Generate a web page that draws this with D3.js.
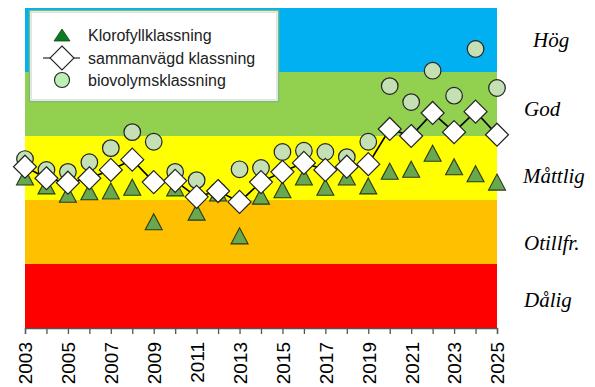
<!DOCTYPE html>
<html>
<head>
<meta charset="utf-8">
<script src="https://cdn.jsdelivr.net/npm/d3@7"></script>
<style>
html,body{margin:0;padding:0;background:#fff;}
svg{display:block;}
</style>
</head>
<body>
<svg id="chart" width="595" height="387"></svg>
<script>
// ---- data ----
const years = d3.range(2003, 2026);
const klorofyll = [2.36,2.22,2.09,2.13,2.14,2.20,1.66,2.19,1.81,2.11,1.44,2.06,2.16,2.36,2.20,2.36,2.22,2.45,2.48,2.73,2.52,2.41,2.28];
const sammanvagd = [2.52,2.34,2.27,2.34,2.47,2.63,2.28,2.30,2.05,2.14,1.97,2.28,2.44,2.58,2.47,2.52,2.56,3.11,3.00,3.36,3.06,3.38,3.02];
const biovolym = [2.64,2.47,2.44,2.59,2.81,3.06,2.91,2.44,2.31,2.14,2.48,2.50,2.75,2.77,2.75,2.67,2.91,3.78,3.53,4.02,3.63,4.36,3.75];
const classNames = ["Dålig","Otillfr.","Måttlig","God","Hög"];
const classLow = [0,1,2,3,4];
const classHigh = [1,2,3,4,5];
const classColors = ["#FF0000","#FFC000","#FFFF00","#92D050","#00B0F0"];
const classLabelPos = [0.44,1.34,2.38,3.42,4.5];
const classLabelX = [524,524,523,524,533];
const tickYears = d3.range(2003, 2026, 2);
const legendNames = ["Klorofyllklassning","sammanvägd klassning","biovolymsklassning"];

// ---- layout ----
const svg = d3.select("#chart");
const x = d3.scaleLinear().domain([2003, 2025]).range([25, 497]);
const y = d3.scaleLinear().domain([0, 5]).range([328, 8]);

// bands
svg.append("g").selectAll("rect").data(classNames).join("rect")
  .attr("x", x(2003)).attr("width", x(2025) - x(2003))
  .attr("y", (d,i) => y(classHigh[i]))
  .attr("height", (d,i) => y(classLow[i]) - y(classHigh[i]))
  .attr("fill", (d,i) => classColors[i]);

// class labels
svg.append("g").selectAll("text").data(classNames).join("text")
  .attr("x", (d,i) => classLabelX[i])
  .attr("y", (d,i) => y(classLabelPos[i]))
  .attr("dy", "0.35em")
  .attr("font-family", "'Liberation Serif','Times New Roman',serif")
  .attr("font-style", "italic")
  .attr("font-size", 21)
  .attr("fill", "#000")
  .text(d => d);

// x axis
const axis = d3.axisBottom(x)
  .tickValues(years)
  .tickSize(6)
  .tickFormat(d => tickYears.includes(d) ? String(d) : "");
const gx = svg.append("g").attr("transform", `translate(0,${y(0)})`).call(axis);
gx.select(".domain").attr("stroke", "#555").attr("stroke-width", 1.3);
gx.selectAll(".tick line").attr("stroke", "#555").attr("stroke-width", 1.3);
gx.selectAll(".tick text")
  .attr("font-family", "'Liberation Sans',Arial,sans-serif")
  .attr("font-size", 19)
  .attr("fill", "#000")
  .attr("text-anchor", "end")
  .attr("transform", "rotate(-90)")
  .attr("x", -14).attr("y", 0).attr("dy", "0.36em");

// circles (biovolym)
svg.append("g").selectAll("circle").data(years).join("circle")
  .attr("cx", d => x(d))
  .attr("cy", (d,i) => y(biovolym[i]))
  .attr("r", 8.3)
  .attr("fill", "#C5E0B4")
  .attr("stroke", "#222").attr("stroke-width", 1.2);

// triangles (klorofyll), centred on bounding box
const triPath = "M0,-8L8.5,8L-8.5,8Z";
svg.append("g").selectAll("path").data(years).join("path")
  .attr("d", triPath)
  .attr("transform", (d,i) => `translate(${x(d)},${y(klorofyll[i])})`)
  .attr("fill", "#6AA84F")
  .attr("stroke", "#2a3a1a").attr("stroke-width", 1.1);

// line (sammanvägd)
const line = d3.line().x((d,i) => x(years[i])).y(d => y(d));
svg.append("path").datum(sammanvagd)
  .attr("d", line).attr("fill", "none")
  .attr("stroke", "#000").attr("stroke-width", 1.6);

// diamonds
const dia = 11.5;
svg.append("g").selectAll("path").data(years).join("path")
  .attr("d", `M0,${-dia}L${dia},0L0,${dia}L${-dia},0Z`)
  .attr("transform", (d,i) => `translate(${x(d)},${y(sammanvagd[i])})`)
  .attr("fill", "#fff")
  .attr("stroke", "#222").attr("stroke-width", 1.2);

// legend
const lg = svg.append("g");
lg.append("rect").attr("x", 29.5).attr("y", 10.5).attr("width", 249).attr("height", 91)
  .attr("fill", "#fff").attr("stroke", "#7fb87f").attr("stroke-width", 1.5);
lg.append("rect").attr("x", 31.5).attr("y", 12.5).attr("width", 245).attr("height", 87)
  .attr("fill", "none").attr("stroke", "#dcdcdc").attr("stroke-width", 0.8);
const ly = [35, 58, 80];
lg.append("path").attr("d", "M0,-6L8,6L-8,6Z")
  .attr("transform", `translate(62,${ly[0]})`)
  .attr("fill", "#0E7A22").attr("stroke", "#0a4a14").attr("stroke-width", 0.8);
lg.append("line").attr("x1", 43).attr("x2", 80).attr("y1", ly[1]).attr("y2", ly[1])
  .attr("stroke", "#000").attr("stroke-width", 1.2);
lg.append("path").attr("d", `M0,-12L12,0L0,12L-12,0Z`)
  .attr("transform", `translate(62,${ly[1]})`)
  .attr("fill", "#fff").attr("stroke", "#222").attr("stroke-width", 1.1);
lg.append("circle").attr("cx", 62).attr("cy", ly[2]).attr("r", 7.5)
  .attr("fill", "#BDF0B5").attr("stroke", "#222").attr("stroke-width", 1.1);
lg.selectAll("text.l").data(legendNames).join("text")
  .attr("class", "l")
  .attr("x", 88).attr("y", (d,i) => ly[i]).attr("dy", "0.35em")
  .attr("font-family", "'Liberation Sans',Arial,sans-serif")
  .attr("font-size", 16).attr("fill", "#222")
  .text(d => d);
</script>
</body>
</html>
